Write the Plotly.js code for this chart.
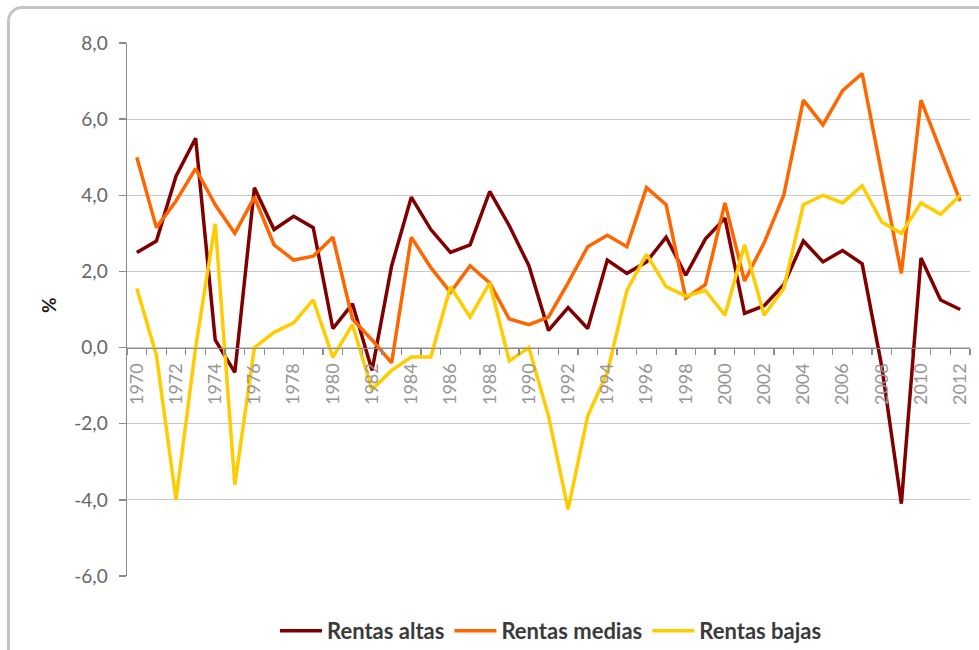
<!DOCTYPE html>
<html>
<head>
<meta charset="utf-8">
<script src="https://cdn.plot.ly/plotly-3.0.1.min.js"></script>
<style>
  html, body { margin: 0; padding: 0; background: #ffffff; }
  #wrap { position: relative; width: 979px; height: 650px; overflow: hidden; }
  #frame { position: absolute; left: 7px; top: 6px; width: 1000px; height: 670px;
           border: 3px solid #c4c4c4; border-radius: 15px; box-sizing: border-box; }
  #chart { position: absolute; left: 0; top: 0; width: 979px; height: 650px; }
</style>
</head>
<body>
<div id="wrap">
  <div id="frame"></div>
  <div id="chart"></div>
</div>
<script>
const years = [1970,1971,1972,1973,1974,1975,1976,1977,1978,1979,1980,1981,1982,1983,1984,1985,1986,1987,1988,1989,1990,1991,1992,1993,1994,1995,1996,1997,1998,1999,2000,2001,2002,2003,2004,2005,2006,2007,2008,2009,2010,2011,2012];

const rentasAltas = [2.5,2.8,4.5,5.5,0.2,-0.65,4.2,3.1,3.45,3.15,0.5,1.15,-0.6,2.15,3.95,3.1,2.5,2.7,4.1,3.2,2.15,0.45,1.05,0.5,2.3,1.95,2.25,2.9,1.9,2.85,3.4,0.9,1.1,1.65,2.8,2.25,2.55,2.2,-0.5,-4.1,2.35,1.25,1.0];

const rentasMedias = [5.0,3.15,3.85,4.7,3.75,3.0,3.95,2.7,2.3,2.4,2.9,0.75,0.2,-0.4,2.9,2.1,1.45,2.15,1.7,0.75,0.6,0.8,1.7,2.65,2.95,2.65,4.2,3.75,1.3,1.65,3.8,1.75,2.75,4.0,6.5,5.85,6.75,7.2,4.55,1.95,6.5,5.2,3.85];

const rentasBajas = [1.55,-0.2,-4.0,0.0,3.25,-3.6,0.0,0.4,0.65,1.25,-0.25,0.6,-1.1,-0.6,-0.25,-0.25,1.6,0.8,1.7,-0.35,0.0,-1.8,-4.25,-1.8,-0.65,1.5,2.45,1.6,1.35,1.5,0.85,2.7,0.85,1.55,3.75,4.0,3.8,4.25,3.3,3.0,3.8,3.5,4.0];

const yTickVals = [-6,-4,-2,0,2,4,6,8];
const yTickText = ['-6,0','-4,0','-2,0','0,0','2,0','4,0','6,0','8,0'];
const xTickVals = [1970,1972,1974,1976,1978,1980,1982,1984,1986,1988,1990,1992,1994,1996,1998,2000,2002,2004,2006,2008,2010,2012];
const xTickText = xTickVals.map(String);

const seriesNames = ['Rentas altas','Rentas medias','Rentas bajas'];
const seriesColors = ['#800000','#ff6600','#ffcc00'];
const seriesData = [rentasAltas, rentasMedias, rentasBajas];

const traces = seriesData.map((d, i) => ({
  type: 'scatter', mode: 'lines', x: years, y: d, name: seriesNames[i],
  line: { color: seriesColors[i], width: 3.5 }, hoverinfo: 'x+y'
}));

const FONT = 'Lato, "Liberation Sans", sans-serif';

const layout = {
  width: 979, height: 650,
  margin: { l: 127, r: 9, t: 43, b: 74, autoexpand: false },
  paper_bgcolor: 'rgba(0,0,0,0)', plot_bgcolor: 'rgba(0,0,0,0)',
  font: { family: FONT, color: '#595959' },
  showlegend: true,
  legend: {
    orientation: 'h', xref: 'container', yref: 'container',
    x: 551 / 979, xanchor: 'center', y: 1 - 631 / 650, yanchor: 'middle',
    font: { family: FONT, size: 22, color: '#3a3a3a', weight: 'bold' },
    traceorder: 'normal', tracegroupgap: 0, itemwidth: 42
  },
  xaxis: {
    range: [1969.5, 2012.5], anchor: 'free', position: 6/14, automargin: false,
    tickmode: 'array', tickvals: xTickVals, ticktext: xTickText,
    tickangle: -90, ticks: '', showgrid: false, zeroline: false,
    showline: true, linecolor: '#8c8c8c', linewidth: 1.5,
    ticklabelstandoff: 7,
    tickfont: { size: 18, color: '#959595', family: FONT },
    minor: { ticks: 'outside', tick0: 1969.5, dtick: 1, ticklen: 6, tickcolor: '#8c8c8c', tickwidth: 1.3, showgrid: false }
  },
  yaxis: {
    range: [-6, 8], tickmode: 'array', tickvals: yTickVals, ticktext: yTickText, automargin: false,
    showgrid: true, gridcolor: '#c8c8c8', gridwidth: 1.2, zeroline: false,
    showline: true, linecolor: '#8c8c8c', linewidth: 1.5,
    ticks: 'outside', ticklen: 7, tickcolor: '#8c8c8c', tickwidth: 1.3,
    tickfont: { size: 19, color: '#666666', family: FONT },
    ticklabelstandoff: 7
  },
  annotations: [{
    text: '%', xref: 'paper', yref: 'paper', x: (48 - 127) / 843, y: 0.5 + (309.5 - 305) / 533,
    xanchor: 'center', yanchor: 'middle', textangle: -90, showarrow: false,
    font: { size: 19, color: '#1a1a1a', family: FONT, weight: 'bold' }
  }]
};

Plotly.newPlot('chart', traces, layout, { displayModeBar: false, staticPlot: true });
</script>
</body>
</html>
